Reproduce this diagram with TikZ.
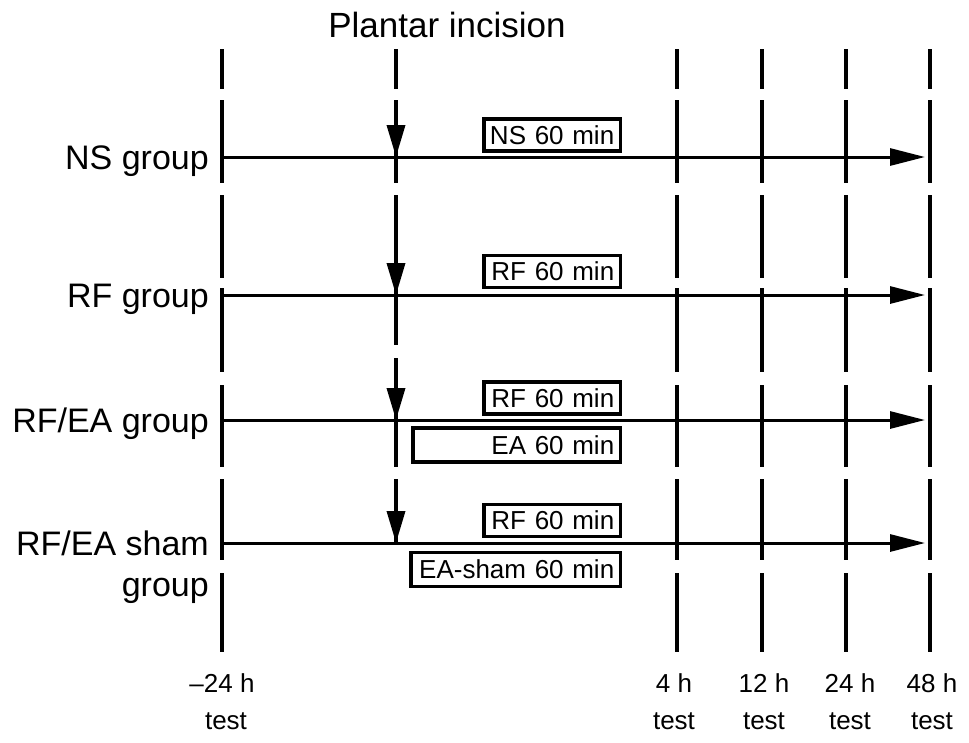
\documentclass[tikz,border=0pt]{standalone}
\usepackage{fontspec}
\setmainfont{Liberation Sans}
\usetikzlibrary{arrows.meta}
\begin{document}
\begin{tikzpicture}[x=1pt,y=-1pt,
  guide/.style={line width=3.5pt, dash pattern=on 40pt off 11pt on 83pt off 12pt on 83pt off 10pt on 84pt off 13pt on 82pt off 12pt on 81pt off 13pt on 79pt off 20pt},
  guidemid/.style={line width=3.5pt, dash pattern=on 40pt off 11pt on 83pt off 12pt on 150pt off 13pt on 109pt off 12pt on 64pt off 20pt},
  timeline/.style={line width=3pt, -{Triangle[length=35pt,width=17pt]}},
  incarrow/.style={line width=3.5pt, -{Triangle[length=32pt,width=18pt]}},
  tbox/.style={draw, line width=3.5pt, inner xsep=6pt, inner ysep=0pt, minimum height=32pt, align=right, font=\fontsize{26}{26}\selectfont},
  grp/.style={font=\fontsize{34}{40}\selectfont, inner sep=0pt, anchor=base east},
  ticklbl/.style={font=\fontsize{26}{26}\selectfont, inner sep=0pt, anchor=base}
]
\useasboundingbox (0,0) rectangle (969,742);

% title
\node[font=\fontsize{35}{40}\selectfont, inner sep=0pt, anchor=base] (title) at (447,37) {Plantar incision};

% vertical guide lines
\foreach \gx/\gn in {222/a,677/c,762/d,846/e,930/f}{
  \coordinate (top-\gn) at (\gx,49);
  \coordinate (bot-\gn) at (\gx,652);
  \draw[guide] (top-\gn) -- (bot-\gn);
}
\coordinate (top-b) at (396,49);
\coordinate (bot-b) at (396,543);
\draw[guidemid] (top-b) -- (bot-b);

% rows
\foreach \ry/\rn in {157/ns,295/rf,420/rfea,543/sham}{
  \coordinate (start-\rn) at (222,\ry);
  \coordinate (end-\rn) at (925,\ry);
  \coordinate (inc-\rn) at (396,\ry);
  \draw[timeline] (start-\rn) -- (end-\rn);
}

% incision arrows
\coordinate (arr-ns) at (396,100);
\coordinate (arr-rf) at (396,195);
\coordinate (arr-rfea) at (396,358);
\coordinate (arr-sham) at (396,479);
\draw[incarrow] (arr-ns) -- (inc-ns);
\draw[incarrow] (arr-rf) -- (inc-rf);
\draw[incarrow] (arr-rfea) -- (inc-rfea);
\draw[incarrow] (arr-sham) -- (inc-sham);

% group labels
\node[grp] (g-ns) at (209,169) {NS group};
\node[grp] (g-rf) at (209,307) {RF group};
\node[grp] (g-rfea) at (209,432) {RF/EA group};
\node[grp] (g-sham) at (209,555) {RF/EA sham};
\node[grp] (g-sham2) at (209,596) {group};

% treatment boxes
\node[tbox, text width=124.5pt] (b-ns) at (552,135) {NS 60 min};
\node[tbox, text width=124.5pt] (b-rf) at (552,271.5) {RF 60 min};
\node[tbox, text width=124.5pt] (b-rfea1) at (552,398) {RF 60 min};
\node[tbox, text width=195.5pt, minimum height=34pt] (b-rfea2) at (516.5,445) {EA 60 min};
\node[tbox, text width=124.5pt] (b-sham1) at (552,520.5) {RF 60 min};
\node[tbox, text width=197.5pt, minimum height=34pt] (b-sham2) at (515.5,569.5) {EA-sham 60 min};

% time labels
\node[ticklbl] (t-a) at (222,692) {\textendash24 h};
\node[ticklbl] (s-a) at (226,729) {test};
\node[ticklbl] (t-c) at (674,692) {4 h};
\node[ticklbl] (s-c) at (674,729) {test};
\node[ticklbl] (t-d) at (764,692) {12 h};
\node[ticklbl] (s-d) at (764,729) {test};
\node[ticklbl] (t-e) at (850,692) {24 h};
\node[ticklbl] (s-e) at (850,729) {test};
\node[ticklbl] (t-f) at (932,692) {48 h};
\node[ticklbl] (s-f) at (932,729) {test};
\end{tikzpicture}
\end{document}
